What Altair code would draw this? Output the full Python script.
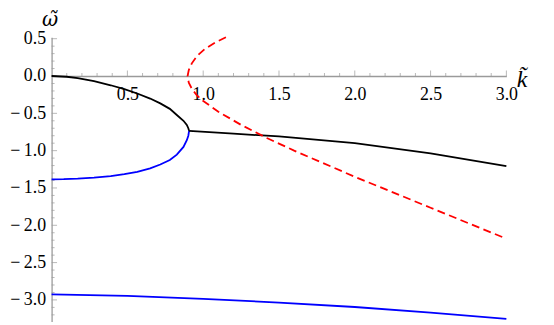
import altair as alt
import pandas as pd
import numpy as np

# ---- curve data (k~, omega~) ----
black_loop_k = [0.0, 0.10, 0.172, 0.28, 0.39, 0.48, 0.565, 0.65, 0.717, 0.78, 0.826, 0.87, 0.892, 0.902, 0.907]
black_loop_w = [0.0, -0.010, -0.027, -0.068, -0.124, -0.176, -0.234, -0.302, -0.367, -0.440, -0.522, -0.600, -0.655, -0.700, -0.734]

blue_loop_k = [0.907, 0.902, 0.892, 0.87, 0.826, 0.78, 0.717, 0.65, 0.565, 0.48, 0.39, 0.28, 0.172, 0.08, 0.0]
blue_loop_w = [-0.734, -0.80, -0.86, -0.95, -1.053, -1.125, -1.186, -1.238, -1.283, -1.316, -1.341, -1.362, -1.376, -1.383, -1.385]

black_right_k = [0.907, 1.2, 1.5, 2.0, 2.5, 3.0]
black_right_w = [-0.734, -0.772, -0.810, -0.900, -1.035, -1.209]

blue_low_k = [0.0, 0.5, 1.0, 1.5, 2.0, 2.5, 3.0]
blue_low_w = [-2.925, -2.945, -2.985, -3.035, -3.095, -3.170, -3.255]

red_k = [1.150, 1.080, 1.012, 0.960, 0.925, 0.905, 0.897, 0.905, 0.925, 0.955, 0.990, 1.100, 1.250, 1.420, 1.600, 2.000, 2.500, 3.000]
red_w = [0.520, 0.450, 0.364, 0.270, 0.170, 0.080, 0.000, -0.090, -0.170, -0.250, -0.320, -0.478, -0.655, -0.830, -1.000, -1.350, -1.765, -2.180]

# ---- axis ticks / labels ----
x_label_values = [0.5, 1.0, 1.5, 2.0, 2.5, 3.0]
y_label_values = [0.5, 0.0, -0.5, -1.0, -1.5, -2.0, -2.5, -3.0]
x_tick_values = [round(v, 1) for v in np.arange(0.1, 3.01, 0.1)]
y_tick_values = [round(v, 1) for v in np.arange(-3.2, 0.51, 0.1)]

K_DOMAIN = [0.0, 3.0]
W_DOMAIN = [-3.29, 0.52]
W, H = 459, 287
y0 = H * W_DOMAIN[1] / (W_DOMAIN[1] - W_DOMAIN[0])

FONT = "Liberation Serif"
TFONT = "DejaVu Serif"
AXC = "#9a9a9a"

rows = []
for name, ks, ws in [("black_loop", black_loop_k, black_loop_w),
                     ("blue_loop", blue_loop_k, blue_loop_w),
                     ("black_right", black_right_k, black_right_w),
                     ("blue_low", blue_low_k, blue_low_w)]:
    for i, (k, w) in enumerate(zip(ks, ws)):
        rows.append({"series": name, "i": i, "k": k, "w": w})
solid = pd.DataFrame(rows)
red = pd.DataFrame({"i": range(len(red_k)), "k": red_k, "w": red_w})

xt = pd.DataFrame({"k": x_tick_values, "w": 0.0})
xt["major"] = [abs(v * 2 - round(v * 2)) < 1e-6 for v in x_tick_values]
yt = pd.DataFrame({"k": 0.0, "w": y_tick_values})
yt["major"] = [abs(v * 2 - round(v * 2)) < 1e-6 for v in y_tick_values]

xscale = alt.Scale(domain=K_DOMAIN, nice=False, zero=False)
yscale = alt.Scale(domain=W_DOMAIN, nice=False, zero=False)

xaxis = alt.Axis(values=x_label_values, format=".1f", offset=-(H - y0),
                 domainColor=AXC, domainWidth=1.3, ticks=False, tickSize=0,
                 labelPadding=10, labelFont=FONT, labelFontSize=18, labelColor="#000",
                 labelBaseline="top", labelFlush=False, labelOverlap=False, grid=False,
                 title="k\u0303", titleFont=FONT, titleFontStyle="italic",
                 titleFontWeight="normal", titleFontSize=24, titleColor="#000",
                 titleX=469, titleY=11, titleAlign="left", titleBaseline="alphabetic")

yaxis = alt.Axis(values=y_label_values,
                 labelExpr="datum.value < 0 ? '\u2212\u2009' + format(abs(datum.value), '.1f') : format(datum.value, '.1f')",
                 domainColor=AXC, domainWidth=1.3, ticks=False, tickSize=0,
                 labelPadding=6, labelFont=FONT, labelFontSize=18, labelColor="#000",
                 labelFlush=False, labelOverlap=False, grid=False,
                 title="\u03c9\u0303", titleFont=TFONT, titleFontStyle="italic",
                 titleFontWeight="normal", titleFontSize=20, titleColor="#000",
                 titleAngle=0, titleX=-2, titleY=-11.5, titleAlign="center",
                 titleBaseline="alphabetic")

X = alt.X("k:Q", scale=xscale, axis=xaxis)
Y = alt.Y("w:Q", scale=yscale, axis=yaxis)

lines = alt.Chart(solid).mark_line(strokeWidth=1.8).encode(
    x=X, y=Y, detail="series:N", order="i:Q",
    color=alt.Color("series:N", legend=None,
                    scale=alt.Scale(domain=["black_loop", "blue_loop", "black_right", "blue_low"],
                                    range=["#000000", "#0000ff", "#000000", "#0000ff"])))

red_line = alt.Chart(red).mark_line(strokeWidth=1.8, color="#ff0000", strokeDash=[8, 4.5]).encode(
    x=X, y=Y, order="i:Q")

xt_major = alt.Chart(xt[xt.major]).mark_tick(orient="vertical", size=5.5, thickness=1, color=AXC, yOffset=-2.75).encode(x=X, y=Y)
xt_minor = alt.Chart(xt[~xt.major]).mark_tick(orient="vertical", size=3, thickness=1, color=AXC, yOffset=-1.5).encode(x=X, y=Y)
yt_major = alt.Chart(yt[yt.major]).mark_tick(orient="horizontal", size=5.5, thickness=1, color=AXC, xOffset=2.75).encode(x=X, y=Y)
yt_minor = alt.Chart(yt[~yt.major]).mark_tick(orient="horizontal", size=3, thickness=1, color=AXC, xOffset=1.5).encode(x=X, y=Y)

chart = alt.layer(xt_major, xt_minor, yt_major, yt_minor, lines, red_line).properties(
    width=W, height=H,
    autosize=alt.AutoSizeParams(type="none"),
    padding={"left": 44, "top": 28, "right": 40, "bottom": 2},
    background="white",
).configure(font=FONT).configure_view(stroke=None)

chart.save("out.html", embed_options={"renderer": "svg", "actions": False})
